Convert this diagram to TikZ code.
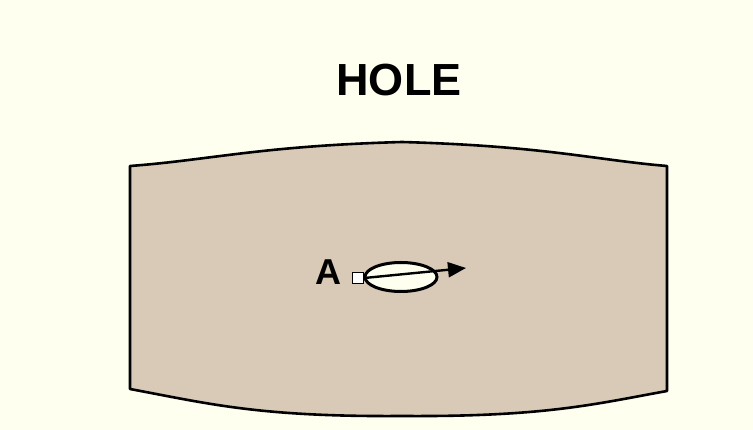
\documentclass[tikz,border=0pt]{standalone}
\usepackage{fontspec}
\setmainfont{Liberation Sans}
\usetikzlibrary{arrows.meta,shapes.geometric}
\definecolor{bgcol}{HTML}{FFFFF0}
\definecolor{holefill}{HTML}{D8CAB6}
\definecolor{ellfill}{HTML}{FFFFF0}
\tikzset{
  outline/.style={draw=black, line width=2.6pt, line join=round},
  label/.style={font=\bfseries, text=black, inner sep=0pt},
}
\begin{document}
\begin{tikzpicture}[x=1pt,y=-1pt]
\useasboundingbox[fill=bgcol] (0,0) rectangle (753,430);
% hole region
\draw[outline, fill=holefill]
  (130,166) .. controls (210,160) and (260,146) .. (402,142)
  .. controls (545,146) and (595,160) .. (667,166)
  -- (667,391)
  .. controls (595,404) and (545,417) .. (402,416)
  .. controls (260,417) and (210,404) .. (130,389) -- cycle;
% title
\node[label, font=\bfseries\fontsize{45}{48}\selectfont] (title) at (399,80) {HOLE};
% point A
\node[label, font=\bfseries\fontsize{36}{38}\selectfont] (A) at (328,272) {A};
\node[draw=black, line width=1.6pt, fill=white, minimum size=11pt, inner sep=0pt] (sq) at (358,278) {};
\node[draw=black, line width=3pt, fill=ellfill, ellipse, minimum width=72pt, minimum height=29pt, inner sep=0pt] (ell) at (401,277) {};
\coordinate (tip) at (466,268);
\draw[line width=2.4pt, -{Triangle[length=18pt,width=15pt]}] (sq.east) -- (tip);
\end{tikzpicture}
\end{document}
